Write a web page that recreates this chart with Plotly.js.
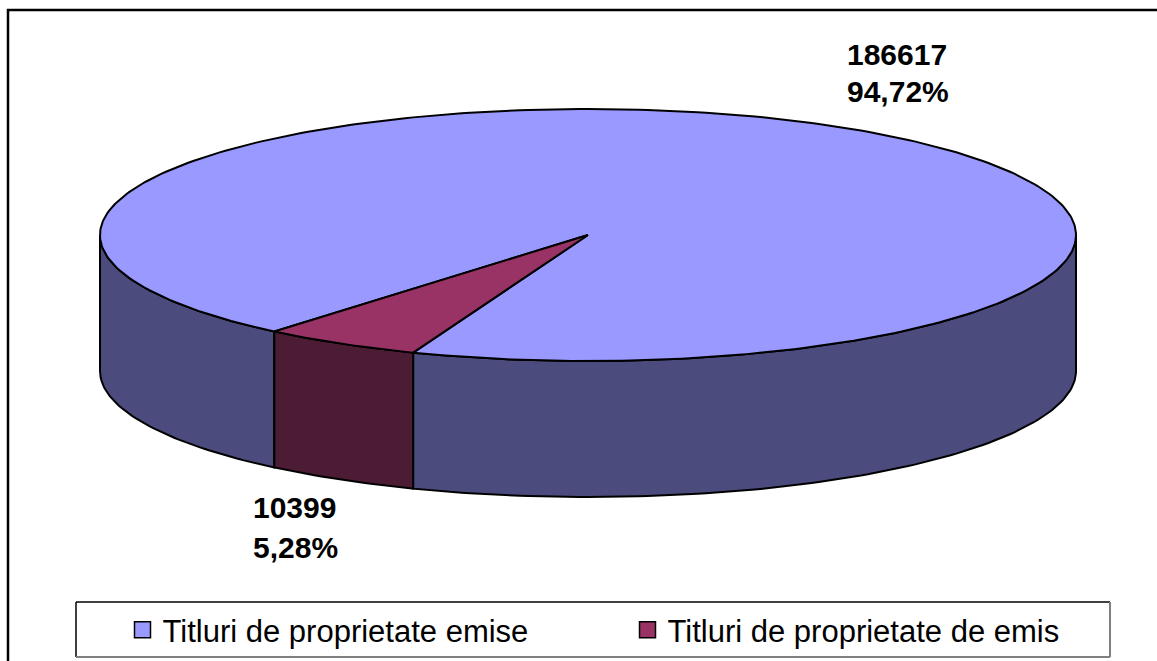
<!DOCTYPE html>
<html><head><meta charset="utf-8">
<script src="https://cdn.plot.ly/plotly-3.0.1.min.js"></script>
<style>html,body{margin:0;padding:0;background:#fff;} #chart{width:1157px;height:661px;}</style>
</head><body><div id="chart"></div>
<script>
// ---- data ----
const categories = ['Titluri de proprietate emise', 'Titluri de proprietate de emis'];
const values = [186617, 10399];
const topColors = ['#9999FF', '#993366'];
const sideColors = ['#4B4B7D', '#4C1B34'];

// ---- layout geometry (pixels) ----
const W = 1157, H = 661;
const geom = {cx: 588, cy: 235, rx: 488, ry: 126, depth: 136, firstAngle: 220};
const FONT = 'Liberation Sans, Arial, sans-serif';

const total = values.reduce((a, b) => a + b, 0);
function pt(tDeg, dy) {
  const t = tDeg * Math.PI / 180;
  return [geom.cx + geom.rx * Math.cos(t), geom.cy + geom.ry * Math.sin(t) + (dy || 0)];
}
function arc(a, b, dy) {
  const n = Math.max(2, Math.ceil(Math.abs(b - a)));
  const xs = [], ys = [];
  for (let i = 0; i <= n; i++) { const p = pt(a + (b - a) * i / n, dy); xs.push(p[0]); ys.push(p[1]); }
  return [xs, ys];
}

let start = geom.firstAngle - 90;
const slices = values.map((v, i) => {
  const span = v / total * 360;
  const s = {i: i, a: start, b: start + span};
  start += span;
  return s;
});

const sideTraces = [], topTraces = [];
slices.forEach(s => {
  for (let k = -1; k <= 2; k++) {
    const lo = Math.max(s.a, k * 360), hi = Math.min(s.b, k * 360 + 180);
    if (hi > lo) {
      const top = arc(lo, hi, 0), bot = arc(hi, lo, geom.depth);
      sideTraces.push({
        type: 'scatter', mode: 'lines',
        x: top[0].concat(bot[0], [top[0][0]]),
        y: top[1].concat(bot[1], [top[1][0]]),
        fill: 'toself', fillcolor: sideColors[s.i],
        line: {color: '#000', width: 2}, hoverinfo: 'skip', showlegend: false
      });
    }
  }
  const a = arc(s.a, s.b, 0);
  topTraces.push({
    type: 'scatter', mode: 'lines',
    x: [geom.cx].concat(a[0], [geom.cx]),
    y: [geom.cy].concat(a[1], [geom.cy]),
    fill: 'toself', fillcolor: topColors[s.i],
    line: {color: '#000', width: 2}, hoverinfo: 'skip', showlegend: false
  });
});

const legendTraces = categories.map((c, i) => ({
  type: 'scatter', mode: 'markers', x: [null], y: [null], name: c,
  marker: {symbol: 'square', size: 16, color: topColors[i], line: {color: '#000', width: 1.5}},
  hoverinfo: 'skip', showlegend: true
}));

// labels
const labelPos = [
  {x: 845, y1: 54, y2: 91},
  {x: 251, y1: 507.5, y2: 547}
];
const annotations = [];
values.forEach((v, i) => {
  const pct = (v / total * 100).toFixed(2).replace('.', ',') + '%';
  [[String(v), labelPos[i].y1], [pct, labelPos[i].y2]].forEach(([t, y]) => {
    annotations.push({x: labelPos[i].x, y: y, xref: 'x', yref: 'y', text: '<b>' + t + '</b>',
      showarrow: false, xanchor: 'left', yanchor: 'middle', align: 'left',
      font: {family: FONT, size: 30, color: '#000'}});
  });
});

const shapes = [
  {type: 'rect', xref: 'x', yref: 'y', x0: 8, x1: 1200, y0: 10, y1: 700, line: {color: '#000', width: 2.5}, layer: 'below'},
  {type: 'line', xref: 'x', yref: 'y', x0: 76, x1: 1110, y0: 602, y1: 602, line: {color: '#000', width: 1.5}},
  {type: 'line', xref: 'x', yref: 'y', x0: 76, x1: 76, y0: 602, y1: 657, line: {color: '#000', width: 1.5}},
  {type: 'line', xref: 'x', yref: 'y', x0: 1110, x1: 1110, y0: 602, y1: 657, line: {color: '#808080', width: 2}},
  {type: 'line', xref: 'x', yref: 'y', x0: 76, x1: 1110, y0: 657, y1: 657, line: {color: '#808080', width: 2}}
];

const layout = {
  width: W, height: H,
  margin: {l: 0, r: 0, t: 0, b: 0, pad: 0},
  paper_bgcolor: '#fff', plot_bgcolor: '#fff',
  xaxis: {range: [0, W], visible: false, fixedrange: true},
  yaxis: {range: [H, 0], visible: false, fixedrange: true},
  showlegend: true,
  legend: {orientation: 'h', x: 122.5 / W, xanchor: 'left', y: 1 - 603 / H, yanchor: 'top',
    font: {family: FONT, size: 31, color: '#000'}, entrywidth: 460, entrywidthmode: 'pixels',
    bgcolor: 'rgba(0,0,0,0)', borderwidth: 0, itemclick: false, itemdoubleclick: false},
  annotations: annotations,
  shapes: shapes,
  hovermode: false
};

Plotly.newPlot('chart', sideTraces.concat(topTraces, legendTraces), layout, {displayModeBar: false, staticPlot: true});
</script></body></html>
